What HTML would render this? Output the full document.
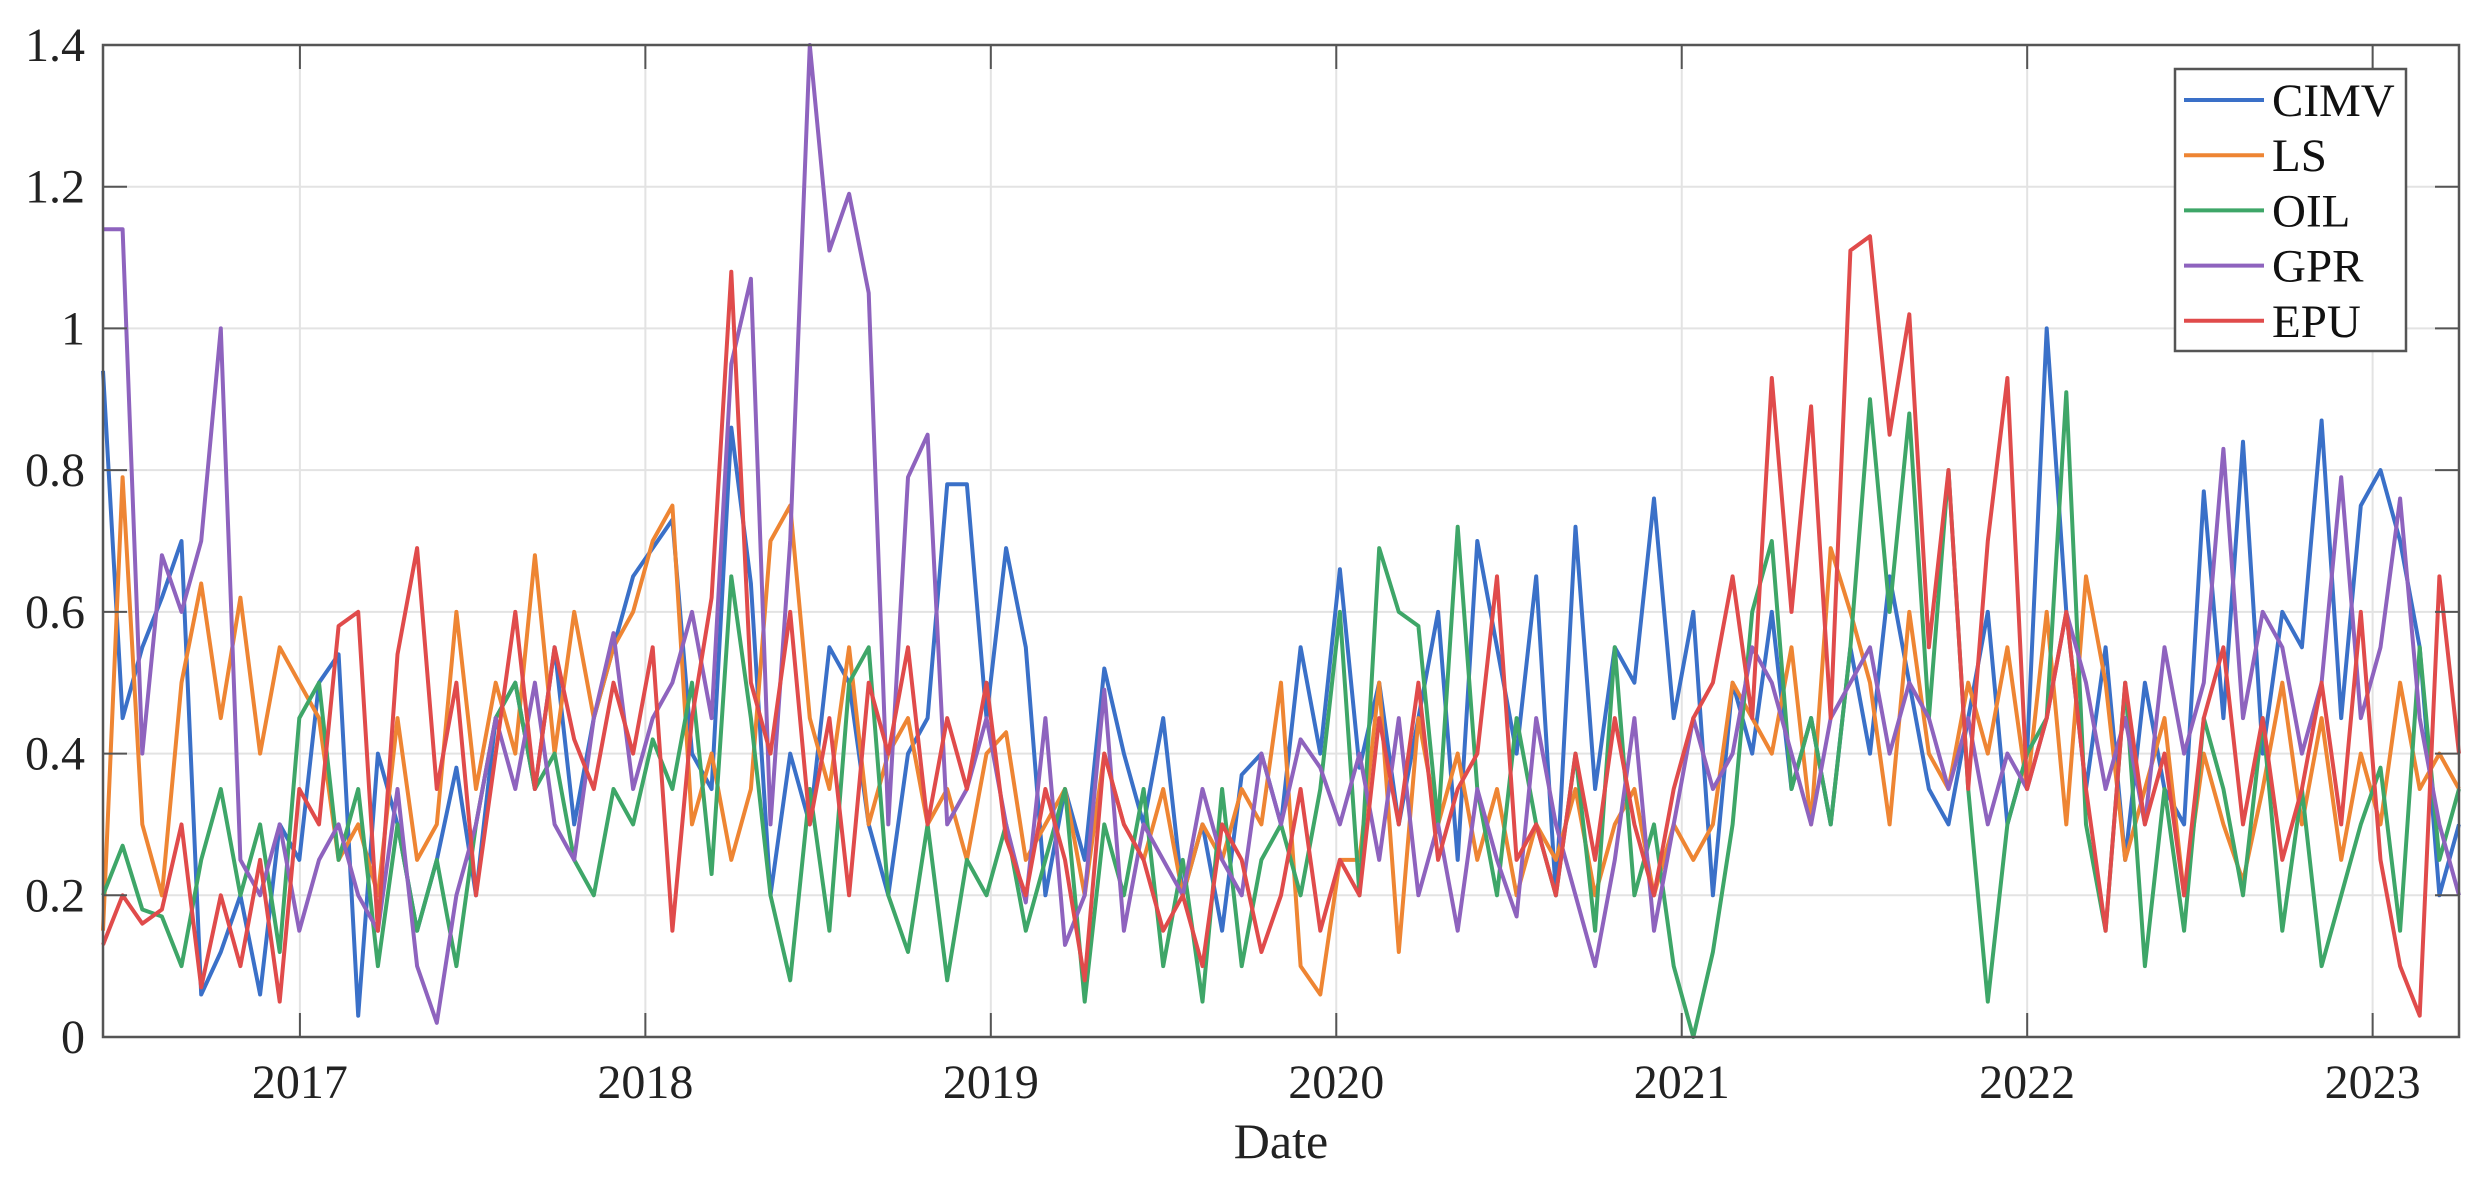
<!DOCTYPE html>
<html><head><meta charset="utf-8"><style>
html,body{margin:0;padding:0;background:#fff;}
svg{display:block;font-family:"Liberation Serif",serif;}
</style></head><body>
<svg id="chart" width="2477" height="1179" viewBox="0 0 2477 1179" xmlns="http://www.w3.org/2000/svg">
<g id="grid"></g>
<g id="series"></g>
<g id="axes"></g>
<g id="legend"></g>
<text x="1281" y="1158" font-size="50" text-anchor="middle" fill="#222">Date</text>
</svg>
<script>
const seriesNames = ["CIMV","LS","OIL","GPR","EPU"];
const seriesColors = ["#3a70c8","#ee8533","#3ea668","#8e63be","#e04b4b"];
const yTicks = [0,0.2,0.4,0.6,0.8,1,1.2,1.4];
const yTickLabels = ["0","0.2","0.4","0.6","0.8","1","1.2","1.4"];
const xTicks = [2017,2018,2019,2020,2021,2022,2023];
const xTickLabels = ["2017","2018","2019","2020","2021","2022","2023"];
const startYear = 2016.43;
const endYear = 2023.25;
const cimv = [0.94,0.45,0.55,0.62,0.70,0.06,0.12,0.20,0.06,0.30,
0.25,0.50,0.54,0.03,0.40,0.30,0.15,0.25,0.38,0.20,0.45,0.50,0.35,0.55,0.30,0.45,0.55,0.65,
0.69,0.73,0.40,0.35,0.86,0.64,0.20,0.40,0.30,0.55,0.50,0.30,0.20,0.40,0.45,0.78,0.78,0.45,
0.69,0.55,0.20,0.35,0.25,0.52,0.40,0.30,0.45,0.20,0.30,0.15,0.37,0.40,0.30,0.55,0.40,0.66,
0.38,0.50,0.30,0.45,0.60,0.25,0.70,0.55,0.40,0.65,0.20,0.72,0.35,0.55,0.50,0.76,0.45,0.60,
0.20,0.50,0.40,0.60,0.35,0.45,0.30,0.55,0.40,0.65,0.50,0.35,0.30,0.45,0.60,0.30,0.40,
1.00,0.60,0.35,0.55,0.25,0.50,0.35,0.30,0.77,0.45,0.84,0.40,0.60,0.55,0.87,0.45,0.75,0.80,
0.70,0.55,0.20,0.30];
const ls = [0.15,0.79,0.30,0.20,0.50,0.64,0.45,0.62,0.40,0.55,
0.50,0.45,0.25,0.30,0.20,0.45,0.25,0.30,0.60,0.35,0.50,0.40,0.68,0.40,0.60,0.45,0.55,0.60,
0.70,0.75,0.30,0.40,0.25,0.35,0.70,0.75,0.45,0.35,0.55,0.30,0.40,0.45,0.30,0.35,0.25,0.40,
0.43,0.25,0.30,0.35,0.20,0.40,0.30,0.25,0.35,0.20,0.30,0.25,0.35,0.30,0.50,0.10,0.06,0.25,
0.25,0.50,0.12,0.45,0.30,0.40,0.25,0.35,0.20,0.30,0.25,0.35,0.20,0.30,0.35,0.20,0.30,0.25,
0.30,0.50,0.45,0.40,0.55,0.30,0.69,0.60,0.50,0.30,0.60,0.40,0.35,0.50,0.40,0.55,0.35,
0.60,0.30,0.65,0.50,0.25,0.35,0.45,0.20,0.40,0.30,0.22,0.35,0.50,0.30,0.45,0.25,0.40,0.30,
0.50,0.35,0.40,0.35];
const oil = [0.20,0.27,0.18,0.17,0.10,0.25,0.35,0.20,0.30,0.12,
0.45,0.50,0.25,0.35,0.10,0.30,0.15,0.25,0.10,0.30,0.45,0.50,0.35,0.40,0.25,0.20,0.35,0.30,
0.42,0.35,0.50,0.23,0.65,0.45,0.20,0.08,0.35,0.15,0.50,0.55,0.20,0.12,0.30,0.08,0.25,0.20,
0.30,0.15,0.25,0.35,0.05,0.30,0.20,0.35,0.10,0.25,0.05,0.35,0.10,0.25,0.30,0.20,0.35,0.60,
0.20,0.69,0.60,0.58,0.30,0.72,0.35,0.20,0.45,0.30,0.20,0.40,0.15,0.55,0.20,0.30,0.10,0.00,
0.12,0.30,0.60,0.70,0.35,0.45,0.30,0.55,0.90,0.60,0.88,0.45,0.80,0.35,0.05,0.30,0.40,
0.45,0.91,0.30,0.15,0.50,0.10,0.35,0.15,0.45,0.35,0.20,0.45,0.15,0.35,0.10,0.20,0.30,0.38,
0.15,0.55,0.25,0.35];
const gpr = [1.14,1.14,0.40,0.68,0.60,0.70,1.00,0.25,0.20,0.30,
0.15,0.25,0.30,0.20,0.15,0.35,0.10,0.02,0.20,0.30,0.45,0.35,0.50,0.30,0.25,0.45,0.57,0.35,
0.45,0.50,0.60,0.45,0.95,1.07,0.30,0.70,1.40,1.11,1.19,1.05,0.30,0.79,0.85,0.30,0.35,0.45,
0.30,0.19,0.45,0.13,0.20,0.49,0.15,0.30,0.25,0.20,0.35,0.25,0.20,0.40,0.30,0.42,0.38,0.30,
0.40,0.25,0.45,0.20,0.30,0.15,0.35,0.25,0.17,0.45,0.30,0.20,0.10,0.25,0.45,0.15,0.30,0.45,
0.35,0.40,0.55,0.50,0.40,0.30,0.45,0.50,0.55,0.40,0.50,0.45,0.35,0.45,0.30,0.40,0.35,
0.45,0.60,0.50,0.35,0.45,0.30,0.55,0.40,0.50,0.83,0.45,0.60,0.55,0.40,0.50,0.79,0.45,0.55,
0.76,0.45,0.30,0.20];
const epu = [0.13,0.20,0.16,0.18,0.30,0.07,0.20,0.10,0.25,0.05,
0.35,0.30,0.58,0.60,0.15,0.54,0.69,0.35,0.50,0.20,0.40,0.60,0.35,0.55,0.42,0.35,0.50,0.40,
0.55,0.15,0.45,0.62,1.08,0.50,0.40,0.60,0.30,0.45,0.20,0.50,0.40,0.55,0.30,0.45,0.35,0.50,
0.28,0.20,0.35,0.25,0.08,0.40,0.30,0.25,0.15,0.20,0.10,0.30,0.25,0.12,0.20,0.35,0.15,0.25,
0.20,0.45,0.30,0.50,0.25,0.35,0.40,0.65,0.25,0.30,0.20,0.40,0.25,0.45,0.30,0.20,0.35,0.45,
0.50,0.65,0.45,0.93,0.60,0.89,0.45,1.11,1.13,0.85,1.02,0.55,0.80,0.35,0.70,0.93,0.35,
0.45,0.60,0.35,0.15,0.50,0.30,0.40,0.20,0.45,0.55,0.30,0.45,0.25,0.35,0.50,0.30,0.60,0.25,
0.10,0.03,0.65,0.40];
const allSeries = [cimv, ls, oil, gpr, epu];

const L=103,R=2459,T=45,B=1037;
const NS="http://www.w3.org/2000/svg";
function xScale(yr){return L+(yr-startYear)/(endYear-startYear)*(R-L);}
function yScale(v){return B-v/1.4*(B-T);}
function mk(tag,attrs,parent){const e=document.createElementNS(NS,tag);for(const k in attrs)e.setAttribute(k,attrs[k]);parent.appendChild(e);return e;}
const grid=document.getElementById('grid'),axes=document.getElementById('axes'),ser=document.getElementById('series'),leg=document.getElementById('legend');
yTicks.forEach((v,i)=>{const y=yScale(v);
 if(i>0&&i<yTicks.length-1){const g=mk('line',{x1:L,x2:R,y1:y,y2:y,stroke:'#e3e3e3','stroke-width':2},grid);
 
 }
 const t1=mk('line',{x1:L,x2:L+24,y1:y,y2:y,stroke:'#555','stroke-width':2},axes);
 
 
 const t2=mk('line',{x1:R-24,x2:R,y1:y,y2:y,stroke:'#555','stroke-width':2},axes);
 
 
 const tx=mk('text',{x:85,y:y+16,'font-size':48,'text-anchor':'end',fill:'#222'},axes);tx.textContent=yTickLabels[i];
 
 
});
xTicks.forEach((v,i)=>{const x=xScale(v);
 const g=mk('line',{x1:x,x2:x,y1:T,y2:B,stroke:'#e3e3e3','stroke-width':2},grid);
 
 
 const t1=mk('line',{x1:x,x2:x,y1:B-24,y2:B,stroke:'#555','stroke-width':2},axes);
 
 
 const t2=mk('line',{x1:x,x2:x,y1:T,y2:T+24,stroke:'#555','stroke-width':2},axes);
 
 
 const tx=mk('text',{x:x,y:1098,'font-size':48,'text-anchor':'middle',fill:'#222'},axes);tx.textContent=xTickLabels[i];
 
 
});
allSeries.forEach((arr,s)=>{const n=arr.length;
 const pts=arr.map((v,i)=>xScale(startYear+i*(endYear-startYear)/(n-1)).toFixed(1)+','+yScale(v).toFixed(1)).join(' ');
 const p=mk('polyline',{points:pts,fill:'none',stroke:seriesColors[s],'stroke-width':4,'stroke-linejoin':'round'},ser);
 
 
});
const frame=mk('rect',{x:L,y:T,width:R-L,height:B-T,fill:'none',stroke:'#555','stroke-width':2.5},axes);


const box=mk('rect',{x:2175,y:69,width:231,height:282,fill:'#fff',stroke:'#555','stroke-width':2.5},leg);


seriesNames.forEach((nm,i)=>{const y=100+i*55.2;
 const g=mk('g',{},leg);
 
 
 mk('line',{x1:2184,x2:2264,y1:y,y2:y,stroke:seriesColors[i],'stroke-width':4},g);
 const t=mk('text',{x:2272,y:y+16,'font-size':47,fill:'#111'},g);t.textContent=nm;
});
</script>
</body></html>
